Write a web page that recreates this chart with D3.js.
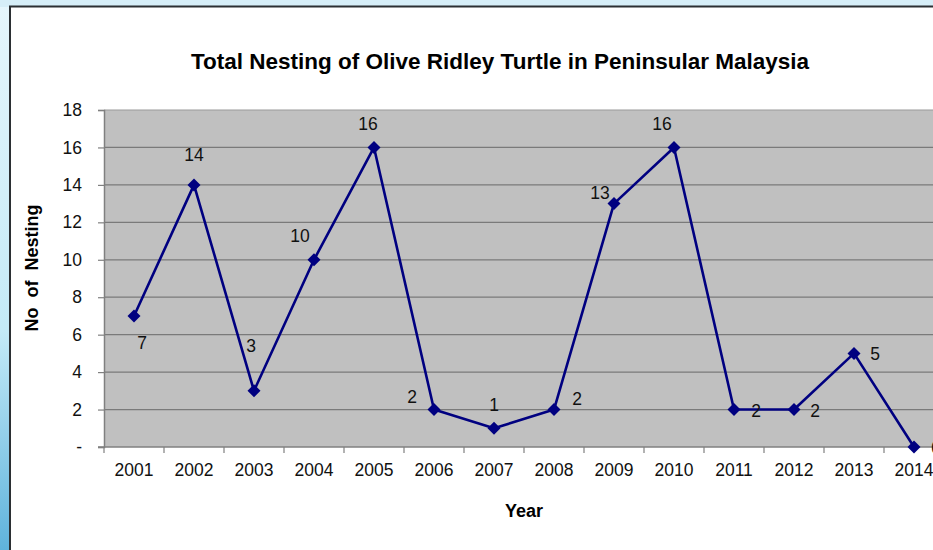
<!DOCTYPE html>
<html>
<head>
<meta charset="utf-8">
<script src="https://cdn.jsdelivr.net/npm/d3@7"></script>
<style>
  html, body { margin: 0; padding: 0; overflow: hidden; }
  svg { display: block; font-family: "Liberation Sans", Arial, sans-serif; }
</style>
</head>
<body>
<svg id="chart" width="933" height="550"></svg>
<script>
// Olive Ridley nesting counts, Peninsular Malaysia
const years = ["2001","2002","2003","2004","2005","2006","2007","2008","2009","2010","2011","2012","2013","2014"];
const nests = [7, 14, 3, 10, 16, 2, 1, 2, 13, 16, 2, 2, 5, 0];
const yTicks = [0, 2, 4, 6, 8, 10, 12, 14, 16, 18];

(function () {
const svg = d3.select("#chart");
const W = 933, H = 550;
const FS = 17.5;

// backdrop: slide-style blue surround with a white panel
const defs = svg.append("defs");
const sideGrad = defs.append("linearGradient").attr("id", "side").attr("x1", 0).attr("y1", 0).attr("x2", 0).attr("y2", 1);
sideGrad.append("stop").attr("offset", "0%").attr("stop-color", "#e6f6fc");
sideGrad.append("stop").attr("offset", "60%").attr("stop-color", "#c4eaf7");
sideGrad.append("stop").attr("offset", "100%").attr("stop-color", "#5fb3dc");
svg.append("rect").attr("width", W).attr("height", H).attr("fill", "url(#side)");
svg.append("rect").attr("width", W).attr("height", 7).attr("fill", "#d6eef8");
svg.append("rect").attr("x", 10).attr("y", 6.5).attr("width", W).attr("height", H)
  .attr("fill", "#ffffff").attr("stroke", "#2b2f33").attr("stroke-width", 2);

const plotL = 104, plotT = 110, plotB = 447, plotR = 944;
const x = d3.scaleBand().domain(years).range([plotL, plotR]);
const y = d3.scaleLinear().domain([0, 18]).range([plotB, plotT]);

// plot area
svg.append("rect").attr("x", plotL).attr("y", plotT).attr("width", plotR - plotL).attr("height", plotB - plotT)
  .attr("fill", "#c0c0c0");

// horizontal gridlines
svg.append("g").selectAll("line").data(yTicks.filter(d => d > 0)).join("line")
  .attr("x1", plotL).attr("x2", plotR)
  .attr("y1", d => y(d)).attr("y2", d => y(d))
  .attr("stroke", d => d === 18 ? "#9a9a9a" : "#7a7a7a").attr("stroke-width", 1.2);

// y axis
const yAxis = d3.axisLeft(y).tickValues(yTicks).tickSize(6).tickPadding(16)
  .tickFormat(d => d === 0 ? "-" : d);
const gy = svg.append("g").attr("transform", `translate(${plotL},0)`).call(yAxis);
gy.select(".domain").attr("stroke", "#808080").attr("stroke-width", 1.5);
gy.selectAll(".tick line").attr("stroke", "#808080").attr("stroke-width", 1.2);
gy.selectAll(".tick text").attr("font-size", FS).attr("fill", "#111")
  .attr("font-family", "Liberation Sans, Arial, sans-serif");

// x axis with tick marks on category boundaries
const gx = svg.append("g").attr("transform", `translate(0,${plotB})`);
gx.append("line").attr("x1", plotL - 6).attr("x2", plotR).attr("y1", 0).attr("y2", 0)
  .attr("stroke", "#808080").attr("stroke-width", 1.5);
gx.selectAll("line.tk").data(years).join("line").attr("class", "tk")
  .attr("x1", d => x(d)).attr("x2", d => x(d)).attr("y1", 0).attr("y2", 6)
  .attr("stroke", "#808080").attr("stroke-width", 1.2);
gx.selectAll("text").data(years).join("text")
  .attr("x", d => x(d) + x.bandwidth() / 2).attr("y", 28.5)
  .attr("text-anchor", "middle").attr("font-size", FS).attr("fill", "#111")
  .text(d => d);

// series line
const pts = years.map((yr, i) => ({ yr, v: nests[i] }));
const cx = d => x(d.yr) + x.bandwidth() / 2;
svg.append("path").datum(pts)
  .attr("d", d3.line().x(cx).y(d => y(d.v)))
  .attr("fill", "none").attr("stroke", "#000080").attr("stroke-width", 2.6).attr("stroke-linejoin", "round");

// diamond markers
svg.append("g").selectAll("path").data(pts).join("path")
  .attr("transform", d => `translate(${cx(d)},${y(d.v)})`)
  .attr("d", "M0,-6.5L6.5,0L0,6.5L-6.5,0Z")
  .attr("fill", "#000080");

// value labels, placed around each marker
const labelShift = {
  "2001": [8, 33], "2002": [0, -24], "2003": [-3, -39], "2004": [-14, -18],
  "2005": [-6, -17], "2006": [-22, -7], "2007": [0, -17], "2008": [23, -5],
  "2009": [-14, -5], "2010": [-12, -17], "2011": [22, 7], "2012": [21, 7],
  "2013": [21, 7], "2014": [22, 7]
};
svg.append("g").selectAll("text").data(pts).join("text")
  .attr("x", d => cx(d) + labelShift[d.yr][0])
  .attr("y", d => y(d.v) + labelShift[d.yr][1])
  .attr("text-anchor", "middle").attr("font-size", FS).attr("fill", "#111")
  .text(d => d.v);

// titles
svg.append("text").attr("x", 500).attr("y", 69).attr("text-anchor", "middle")
  .attr("font-size", 22.5).attr("font-weight", "bold").attr("fill", "#000")
  .text("Total Nesting of Olive Ridley Turtle in Peninsular Malaysia");
svg.append("text").attr("x", 524).attr("y", 517).attr("text-anchor", "middle")
  .attr("font-size", 18).attr("font-weight", "bold").attr("fill", "#000")
  .text("Year");
svg.append("text").attr("transform", "translate(38,268) rotate(-90)").attr("text-anchor", "middle")
  .attr("font-size", 18).attr("font-weight", "bold").attr("fill", "#000")
  .style("white-space", "pre")
  .text("No  of  Nesting");
})();
</script>
</body>
</html>
